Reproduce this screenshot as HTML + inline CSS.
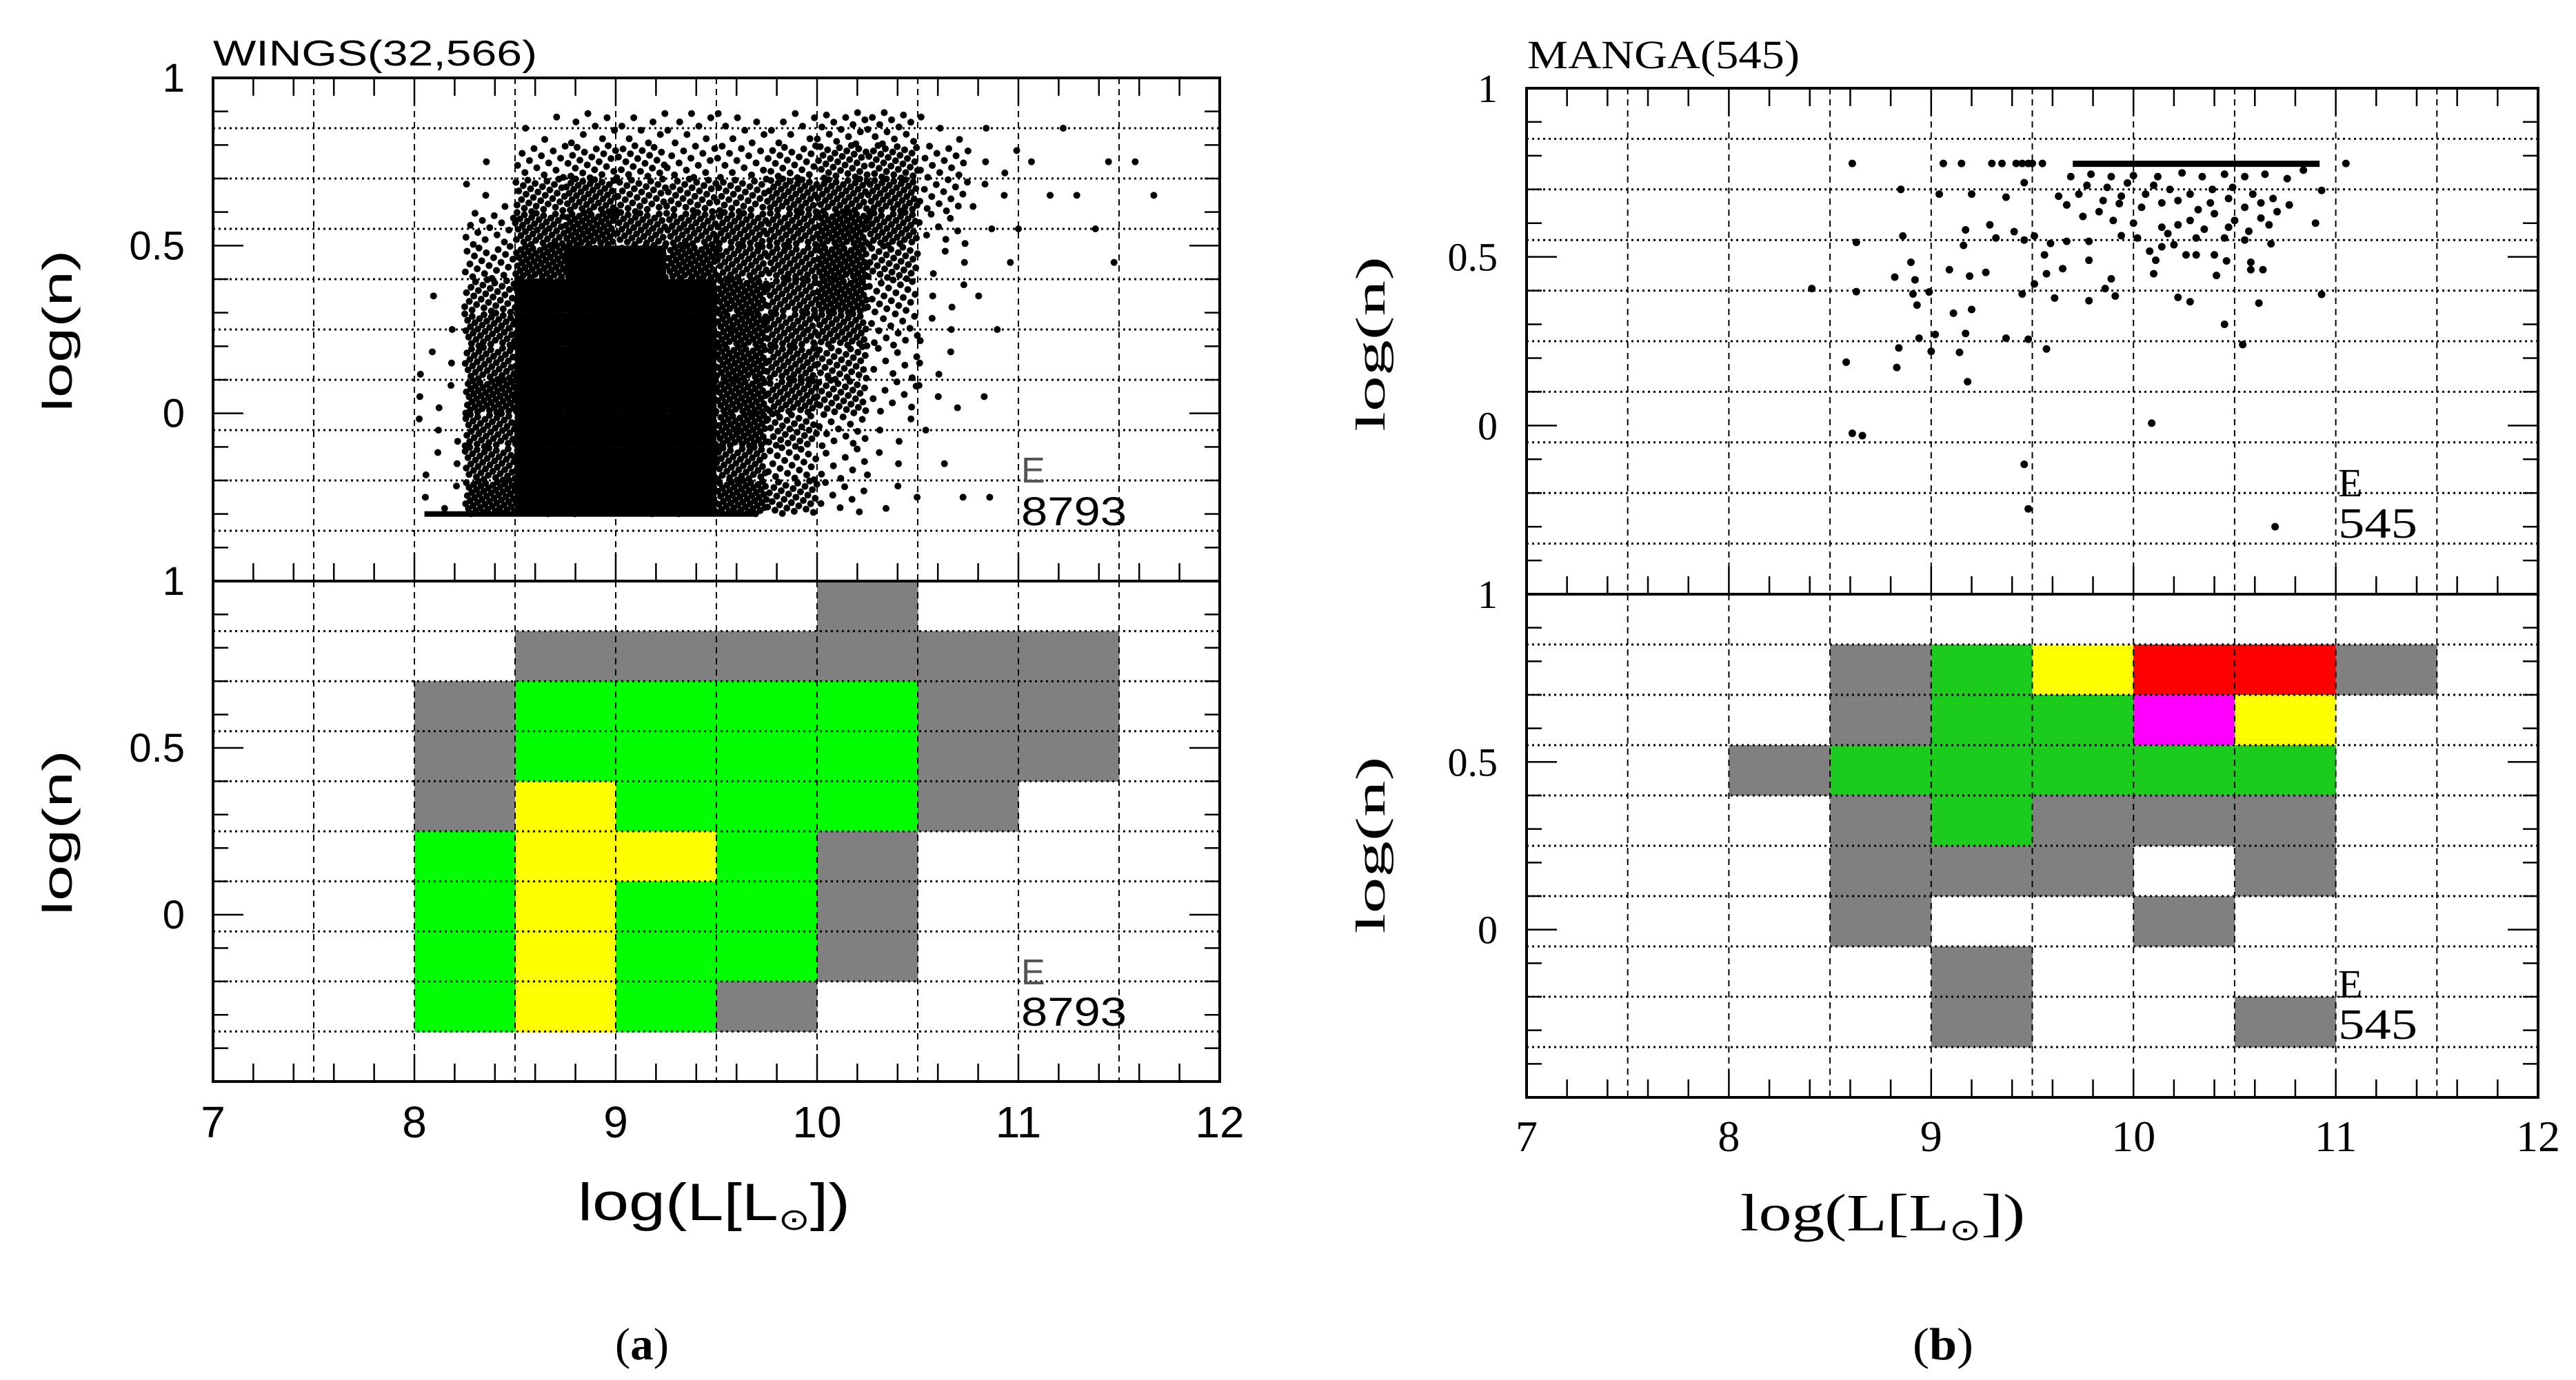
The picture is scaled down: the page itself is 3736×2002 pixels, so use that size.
<!DOCTYPE html>
<html><head><meta charset="utf-8">
<style>
html,body{margin:0;padding:0;background:#fff;}
svg{display:block;}
.sans{font-family:"Liberation Sans",sans-serif;}
.serif{font-family:"Liberation Serif",serif;}
</style></head>
<body>
<svg id="fig" width="3736" height="2002" viewBox="0 0 3736 2002" xmlns="http://www.w3.org/2000/svg">
<g id="root"></g>
</svg>
<script>
// ---------- DATA ----------
const xTicks = [7, 8, 9, 10, 11, 12];
const xTickLabels = ["7", "8", "9", "10", "11", "12"];
const yTicks = [1, 0.5, 0];
const yTickLabels = ["1", "0.5", "0"];
const yBinEdges = [-0.35, -0.2, -0.05, 0.1, 0.25, 0.4, 0.55, 0.7, 0.85];
const wingsHeatRows = [
  "......g...",
  "...gggggg.",
  "..gGGGGgg.",
  "..gGGGGgg.",
  "..gYGGGg..",
  "..GYYGg...",
  "..GYGGg...",
  "..GYGGg...",
  "..GYGg...."
];
const mangaHeatRows = [
  "..........",
  "...gGYRRg.",
  "...gGGMY..",
  "..gGGGGG..",
  "...gGggg..",
  "...ggg.g..",
  "...g..g...",
  "....g.....",
  "....g..g.."
];
const heatRowLows = [0.85, 0.7, 0.55, 0.4, 0.25, 0.1, -0.05, -0.2, -0.35];
const wingsDensityRowLows = [0.8, 0.7, 0.6, 0.5, 0.4, 0.3, 0.2, 0.1, 0.0, -0.1, -0.2, -0.3];
const wingsDensityColLows = [7.75, 8.0, 8.25, 8.5, 8.75, 9.0, 9.25, 9.5, 9.75, 10.0, 10.25, 10.5, 10.75, 11.0, 11.25, 11.5];
const wingsDensity = [
  [0,0,0,2,3,3,3,3,3,4,4,2,1,1,0,0],
  [0,0,1,4,5,5,4,4,5,6,6,4,2,1,1,1],
  [0,0,2,6,7,6,6,6,7,7,7,4,2,1,1,1],
  [0,0,4,7,8,7,7,7,7,8,7,3,1,1,1,0],
  [0,0,5,8,9,9,8,7,7,8,6,2,1,0,1,0],
  [0,1,6,9,9,9,9,8,7,8,5,2,1,0,0,0],
  [0,1,7,9,9,9,9,8,7,7,4,2,1,0,0,0],
  [0,2,7,9,9,9,9,8,7,6,3,2,0,0,0,0],
  [0,2,8,9,9,9,9,8,7,6,3,2,1,0,0,0],
  [0,2,7,9,9,9,9,8,6,4,2,1,0,0,0,0],
  [0,2,7,9,9,9,9,7,5,3,2,1,0,0,0,0],
  [0,2,8,9,9,9,9,8,6,3,2,1,1,0,0,0]
];
const wingsFloorY = [-0.3];
const wingsFloorX = [8.05, 9.7];
const mangaX = [8.61,9.06,9.15,9.3,9.35,9.42,9.45,9.48,9.5,9.55,11.05,
 8.85,9.04,9.2,9.37,9.46,9.63,9.67,10.93,10.9,9.29,9.17,8.86,8.63,9.16,9.32,9.41,9.46,9.51,9.59,9.67,9.78,9.78,9.56,9.65,9.57,9.51,9.45,9.61,9.78,9.86,9.89,9.91,
 8.9,8.82,8.92,8.91,8.99,9.09,9.19,9.27,8.93,9.11,9.2,8.41,8.63,10.22,10.28,10.62,10.93,10.45,10.54,8.94,9.02,9.17,9.37,9.48,9.57,8.84,9.0,9.14,8.58,8.83,9.18,10.09,8.61,8.66,9.46,9.48,10.7,
 10.11,10.1,10.08,10.14,10.2,10.26,10.31,10.4,10.46,10.41,10.58,10.58,10.64,10.68,10.55,10.45,10.31,10.17,10.02,9.94,10.0,9.9,9.75,9.83,9.93,10.04,10.14,10.22,10.32,10.4,10.5,10.63,10.71,10.77,10.69,10.59,10.49,10.39,10.28,10.18,10.1,9.97,9.87,9.77,9.69,9.79,9.89,10.0,10.12,10.24,10.34,10.45,10.55,10.65,10.76,10.84,10.14,10.22,10.35,10.47,10.57,10.67,10.28,10.38,10.47,10.55,10.63,10.06,9.94,9.85,9.73];
const mangaY = [0.777,0.777,0.777,0.777,0.777,0.777,0.777,0.777,0.777,0.777,0.777,
 0.70,0.686,0.686,0.677,0.72,0.68,0.654,0.697,0.60,0.595,0.58,0.562,0.543,0.534,0.556,0.575,0.55,0.562,0.54,0.546,0.546,0.49,0.506,0.465,0.45,0.42,0.39,0.378,0.37,0.406,0.435,0.384,
 0.484,0.44,0.432,0.39,0.396,0.462,0.443,0.454,0.357,0.333,0.344,0.406,0.397,0.38,0.367,0.363,0.389,0.3,0.24,0.259,0.27,0.273,0.259,0.256,0.227,0.23,0.22,0.217,0.188,0.172,0.13,0.007,-0.023,-0.03,-0.115,-0.247,-0.3,
 0.49,0.45,0.517,0.53,0.536,0.506,0.506,0.506,0.488,0.445,0.484,0.462,0.462,0.539,0.55,0.556,0.556,0.569,0.556,0.563,0.6,0.608,0.62,0.634,0.658,0.647,0.66,0.667,0.64,0.628,0.608,0.615,0.634,0.654,0.673,0.686,0.706,0.7,0.686,0.7,0.712,0.719,0.706,0.712,0.738,0.745,0.738,0.741,0.738,0.749,0.738,0.745,0.738,0.745,0.732,0.757,0.588,0.595,0.582,0.588,0.576,0.595,0.608,0.66,0.673,0.647,0.66,0.686,0.68,0.667,0.686];
const mangaLineX = [9.7, 10.92];
const mangaLineY = [0.777];

// ---------- RENDER ----------
const NS = "http://www.w3.org/2000/svg";
const root = document.getElementById("root");
function mk(tag, attrs, parent) {
  const e = document.createElementNS(NS, tag);
  for (const k in attrs) e.setAttribute(k, attrs[k]);
  (parent || root).appendChild(e);
  return e;
}
function panel(x0, x1, yt, yb) {
  return {
    sx: v => x0 + (v - 7) / 5 * (x1 - x0),
    sy: v => yt + (1 - v) / 1.5 * (yb - yt),
    x0, x1, yt, yb
  };
}
const P = {
  wTop: panel(309, 1769, 113, 843),
  wBot: panel(309, 1769, 843, 1569),
  mTop: panel(2214, 3681, 128, 862),
  mBot: panel(2214, 3681, 862, 1592)
};
const wColors = { g: "#808080", G: "#00ff00", Y: "#ffff00" };
const mColors = { g: "#808080", G: "#1ccc1c", Y: "#ffff00", R: "#ff0000", M: "#ff00ff" };

function drawHeat(p, rows, colors, name) {
  const g = mk("g", {});
  
  
  rows.forEach((row, ri) => {
    const lo = heatRowLows[ri], hi = lo + 0.15;
    for (let ci = 0; ci < row.length; ci++) {
      const c = row[ci];
      if (c === ".") continue;
      const xa = 7 + ci * 0.5;
      const r = mk("rect", { x: p.sx(xa), y: p.sy(hi), width: p.sx(xa + 0.5) - p.sx(xa) + 0.5, height: p.sy(lo) - p.sy(hi) + 0.5, fill: colors[c] }, g);
      
      
    }
  });
}

function drawGrid(p, name) {
  const g = mk("g", {});
  
  
  for (let v = 7.5; v < 12; v += 0.5) {
    mk("line", { x1: p.sx(v), x2: p.sx(v), y1: p.yt, y2: p.yb, stroke: "#000", "stroke-width": 2, "stroke-dasharray": "9,7" }, g);
  }
  yBinEdges.forEach(v => {
    mk("line", { x1: p.x0, x2: p.x1, y1: p.sy(v), y2: p.sy(v), stroke: "#000", "stroke-width": 3, "stroke-dasharray": "3,5" }, g);
  });
}

function drawAxes(p, topTicks, bottomTicks, name) {
  const g = mk("g", {});
  
  
  mk("rect", { x: p.x0, y: p.yt, width: p.x1 - p.x0, height: p.yb - p.yt, fill: "none", stroke: "#000", "stroke-width": 4 }, g);
  for (let i = 0; i <= 25; i++) {
    const v = 7 + i * 0.2, x = p.sx(v);
    const L = (i % 5 === 0) ? 40 : 26;
    if (topTicks) mk("line", { x1: x, x2: x, y1: p.yt, y2: p.yt + L, stroke: "#000", "stroke-width": 2.5 }, g);
    if (bottomTicks) mk("line", { x1: x, x2: x, y1: p.yb, y2: p.yb - L, stroke: "#000", "stroke-width": 2.5 }, g);
  }
  for (let i = 0; i <= 15; i++) {
    const v = -0.5 + i * 0.1, y = p.sy(v);
    const L = (i % 5 === 0) ? 44 : 22;
    mk("line", { x1: p.x0, x2: p.x0 + L, y1: y, y2: y, stroke: "#000", "stroke-width": 2.5 }, g);
    mk("line", { x1: p.x1, x2: p.x1 - L, y1: y, y2: y, stroke: "#000", "stroke-width": 2.5 }, g);
  }
}

function text(str, x, y, attrs, name) {
  const t = mk("text", Object.assign({ x: x, y: y, fill: "#000" }, attrs));
  t.textContent = str;
  
  
  return t;
}
function yLabels(p, cls, rightX, name) {
  yTicks.forEach((v, i) => {
    text(yTickLabels[i], rightX, p.sy(v) + 20, { class: cls, "font-size": 58, "text-anchor": "end" }, name);
  });
}
function xLabels(p, cls, baseY, name) {
  xTicks.forEach((v, i) => {
    text(xTickLabels[i], p.sx(v), baseY, { class: cls, "font-size": 64, "text-anchor": "middle" }, name);
  });
}

drawHeat(P.wBot, wingsHeatRows, wColors, "wings-heatmap");
drawHeat(P.mBot, mangaHeatRows, mColors, "manga-heatmap");
drawGrid(P.wTop, "wings-top-grid");
drawGrid(P.wBot, "wings-bottom-grid");
drawGrid(P.mTop, "manga-top-grid");
drawGrid(P.mBot, "manga-bottom-grid");

// WINGS scatter: density cells rendered with Fibonacci-lattice dot placement
(function () {
  const p = P.wTop;
  const g = mk("g", { fill: "#000" });
  
  
  const PHI = 0.6180339887;
  wingsDensity.forEach((row, ri) => {
    const ylo = wingsDensityRowLows[ri];
    row.forEach((lev, ci) => {
      if (!lev) return;
      const xlo = wingsDensityColLows[ci];
      const n = lev >= 9 ? 60 : Math.round(lev * lev * 0.85);
      const off = ((ri * 0.37 + ci * 0.53) % 1);
      for (let i = 0; i < n; i++) {
        const fx = (i * PHI + off) % 1;
        const fy = (i + 0.5) / n;
        const c = mk("circle", { cx: p.sx(xlo + fx * 0.25), cy: p.sy(ylo + fy * 0.1), r: 5 }, g);
        
        
      }
      if (lev >= 9) {
        const f = mk("rect", { x: p.sx(xlo), y: p.sy(ylo + 0.1), width: p.sx(xlo + 0.25) - p.sx(xlo), height: p.sy(ylo) - p.sy(ylo + 0.1), fill: "#000" }, g);
        
        
      }
    });
  });
  const fl = mk("rect", { x: p.sx(wingsFloorX[0]), y: p.sy(wingsFloorY[0]) - 4, width: p.sx(wingsFloorX[1]) - p.sx(wingsFloorX[0]), height: 8 }, g);
  
  
})();

(function () {
  const p = P.mTop;
  const g = mk("g", { fill: "#000" });
  
  
  mangaX.forEach((v, i) => {
    const c = mk("circle", { cx: p.sx(v), cy: p.sy(mangaY[i]), r: 5.5 }, g);
    
    
  });
  const ln = mk("rect", { x: p.sx(mangaLineX[0]), y: p.sy(mangaLineY[0]) - 4, width: p.sx(mangaLineX[1]) - p.sx(mangaLineX[0]), height: 9 }, g);
  
  
})();

drawAxes(P.wTop, true, true, "wings-top-axes");
drawAxes(P.wBot, false, true, "wings-bottom-axes");
drawAxes(P.mTop, true, true, "manga-top-axes");
drawAxes(P.mBot, false, true, "manga-bottom-axes");

text("WINGS(32,566)", 309, 95, { class: "sans", "font-size": 52, textLength: 470, lengthAdjust: "spacingAndGlyphs" }, "wings-title");
text("MANGA(545)", 2215, 99, { class: "serif", "font-size": 58, textLength: 395, lengthAdjust: "spacingAndGlyphs" }, "manga-title");

yLabels(P.wTop, "sans", 268, "wings-top-y-tick");
yLabels(P.wBot, "sans", 268, "wings-bottom-y-tick");
yLabels(P.mTop, "serif", 2172, "manga-top-y-tick");
yLabels(P.mBot, "serif", 2172, "manga-bottom-y-tick");

xLabels(P.wBot, "sans", 1650, "wings-x-tick");
xLabels(P.mBot, "serif", 1670, "manga-x-tick");

function yTitle(cx, cy, cls, len, name) {
  text("log(n)", 0, 0, { class: cls, "font-size": 60, "text-anchor": "middle", textLength: len, lengthAdjust: "spacingAndGlyphs", transform: "translate(" + cx + "," + cy + ") rotate(-90)" }, name);
}
yTitle(104, 480, "sans", 235, "wings-top-y-title");
yTitle(104, 1208, "sans", 240, "wings-bottom-y-title");
yTitle(2008, 499, "serif", 254, "manga-top-y-title");
yTitle(2008, 1226, "serif", 257, "manga-bottom-y-title");

function xTitle(x, y, len, cls, name) {
  const t = mk("text", { x: x, y: y, class: cls, "font-size": 76, fill: "#000", textLength: len, lengthAdjust: "spacingAndGlyphs" });
  
  
  t.appendChild(document.createTextNode("log(L[L"));
  const s = mk("tspan", { "font-size": 44, dy: 14 }, t);
  s.textContent = "\u2299";
  const s2 = mk("tspan", { dy: -14 }, t);
  s2.textContent = "])";
}
xTitle(838, 1770, 395, "sans", "wings-x-title");
xTitle(2524, 1785, 413, "serif", "manga-x-title");

text("E", 1481, 700, { class: "sans", "font-size": 52, fill: "#555" }, "wings-top-type");
text("8793", 1481, 762, { class: "sans", "font-size": 58, textLength: 153, lengthAdjust: "spacingAndGlyphs" }, "wings-top-count");
text("E", 1481, 1428, { class: "sans", "font-size": 52, fill: "#555" }, "wings-bottom-type");
text("8793", 1481, 1488, { class: "sans", "font-size": 58, textLength: 153, lengthAdjust: "spacingAndGlyphs" }, "wings-bottom-count");
text("E", 3391, 720, { class: "serif", "font-size": 58 }, "manga-top-type");
text("545", 3391, 780, { class: "serif", "font-size": 62, textLength: 115, lengthAdjust: "spacingAndGlyphs" }, "manga-top-count");
text("E", 3391, 1447, { class: "serif", "font-size": 58 }, "manga-bottom-type");
text("545", 3391, 1507, { class: "serif", "font-size": 62, textLength: 115, lengthAdjust: "spacingAndGlyphs" }, "manga-bottom-count");

const ca = text("", 892, 1972, { class: "serif", "font-size": 66, textLength: 78, lengthAdjust: "spacingAndGlyphs" }, "caption-a");
ca.appendChild(document.createTextNode("("));
const ab = mk("tspan", { "font-weight": "bold" }, ca); ab.textContent = "a";
ca.appendChild(document.createTextNode(")"));
const cb = text("", 2774, 1972, { class: "serif", "font-size": 66, textLength: 88, lengthAdjust: "spacingAndGlyphs" }, "caption-b");
cb.appendChild(document.createTextNode("("));
const bb = mk("tspan", { "font-weight": "bold" }, cb); bb.textContent = "b";
cb.appendChild(document.createTextNode(")"));
</script>
</body></html>
